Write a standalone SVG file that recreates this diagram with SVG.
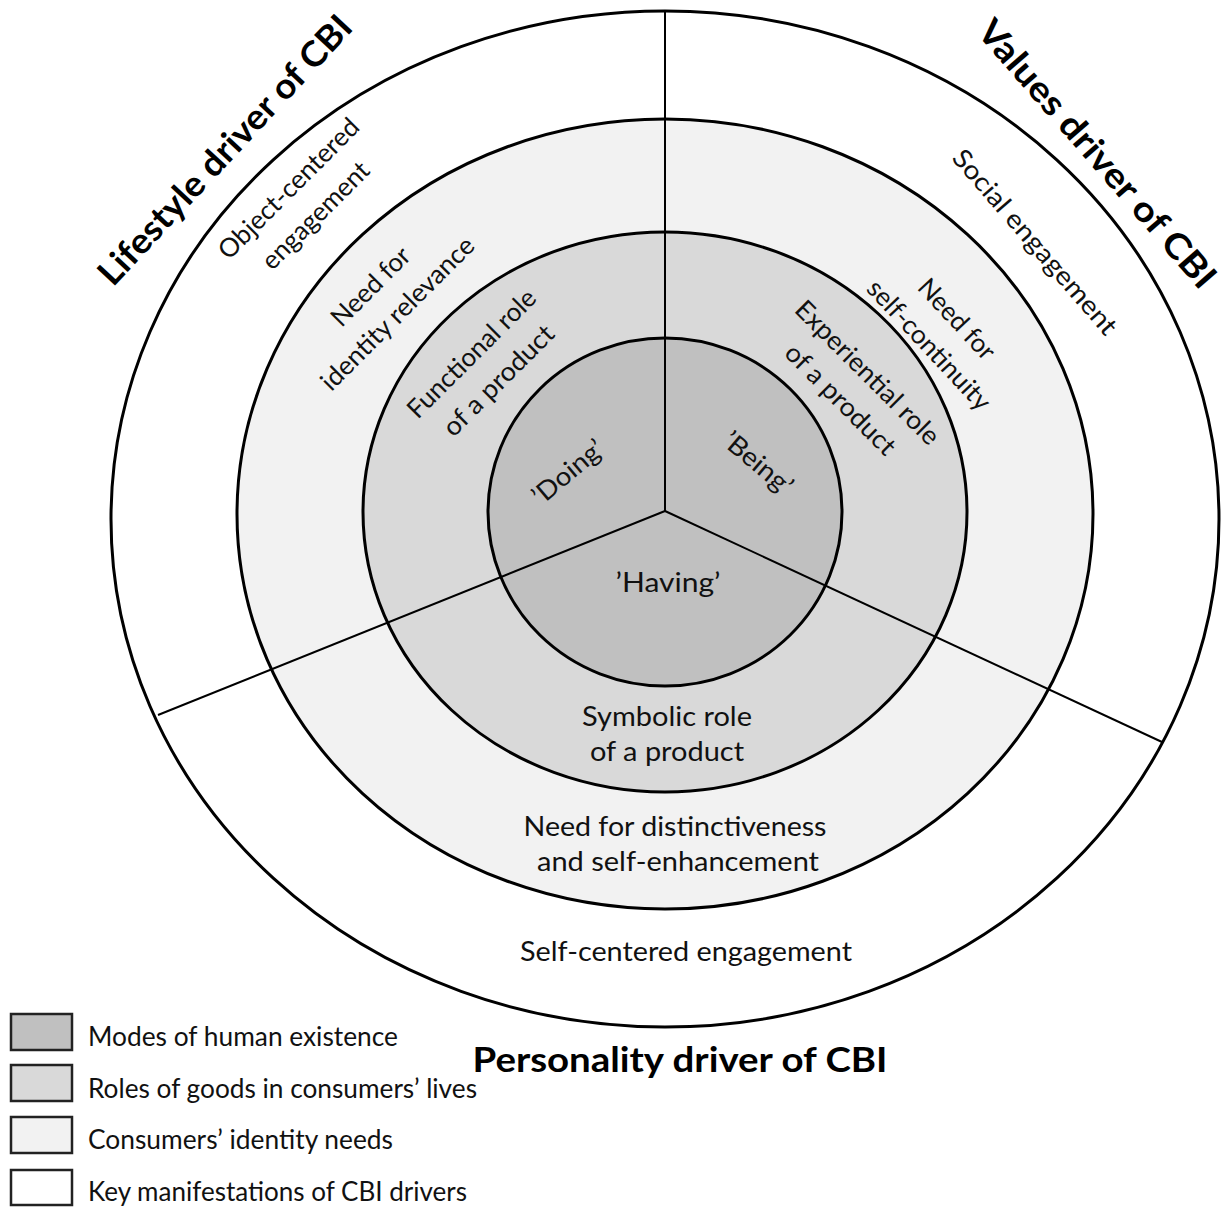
<svg xmlns="http://www.w3.org/2000/svg" width="1223" height="1209" viewBox="0 0 1223 1209">
<style>
.ring{stroke:#000;stroke-width:3}
.spoke{stroke:#000;stroke-width:2;fill:none}
.t{font-family:Lato,"Open Sans","Liberation Sans",sans-serif;font-size:26px;fill:#111;text-anchor:middle}
.lt{font-family:Lato,"Open Sans","Liberation Sans",sans-serif;font-size:26px;fill:#111;text-anchor:start}
.b{font-family:Lato,"Open Sans","Liberation Sans",sans-serif;font-size:35px;font-weight:bold;fill:#000;text-anchor:middle}
.key{stroke:#222;stroke-width:2.5}
</style>
<rect width="1223" height="1209" fill="#fff"/>
<g id="ring-drivers"><ellipse class="ring" cx="665" cy="519" rx="554" ry="508" fill="#fff"/></g>
<g id="ring-needs"><ellipse class="ring" cx="665" cy="514" rx="428" ry="395" fill="#f2f2f2"/></g>
<g id="ring-roles"><ellipse class="ring" cx="665" cy="512" rx="302" ry="280" fill="#d9d9d9"/></g>
<g id="ring-modes"><ellipse class="ring" cx="665" cy="512" rx="177" ry="174" fill="#c0c0c0"/></g>
<g id="connectors">
<line class="spoke" x1="665" y1="511" x2="665" y2="11"/>
<line class="spoke" x1="665" y1="511" x2="158" y2="715"/>
<line class="spoke" x1="665" y1="511" x2="1162" y2="742"/>
</g>
<g id="labels">
<g id="lbl-lifestyle" transform="translate(225,150) rotate(-47)"><text class="b" x="0" y="12" textLength="354" lengthAdjust="spacingAndGlyphs">Lifestyle driver of CBI</text></g>
<g id="lbl-values" transform="translate(1097,154) rotate(49)"><text class="b" x="0" y="12" textLength="343" lengthAdjust="spacingAndGlyphs">Values driver of CBI</text></g>
<g id="lbl-object" transform="translate(302,202) rotate(-45)"><text class="t" x="0" y="-10" textLength="187" lengthAdjust="spacingAndGlyphs">Object-centered</text><text class="t" x="0" y="28" textLength="140" lengthAdjust="spacingAndGlyphs">engagement</text></g>
<g id="lbl-social" transform="translate(1035,242) rotate(49)"><text class="t" x="0" y="9" textLength="236" lengthAdjust="spacingAndGlyphs">Social engagement</text></g>
<g id="lbl-relevance" transform="translate(384,300) rotate(-45)"><text class="t" x="0" y="-10" textLength="100" lengthAdjust="spacingAndGlyphs">Need for</text><text class="t" x="0" y="28" textLength="205" lengthAdjust="spacingAndGlyphs">identity relevance</text></g>
<g id="lbl-continuity" transform="translate(943,332) rotate(47)"><text class="t" x="0" y="-10" textLength="100" lengthAdjust="spacingAndGlyphs">Need for</text><text class="t" x="0" y="28" textLength="168" lengthAdjust="spacingAndGlyphs">self-continuity</text></g>
<g id="lbl-functional" transform="translate(485,367) rotate(-45)"><text class="t" x="0" y="-10" textLength="170" lengthAdjust="spacingAndGlyphs">Functional role</text><text class="t" x="0" y="28" textLength="145" lengthAdjust="spacingAndGlyphs">of a product</text></g>
<g id="lbl-experiential" transform="translate(854,386) rotate(45)"><text class="t" x="0" y="-10" textLength="192" lengthAdjust="spacingAndGlyphs">Experiential role</text><text class="t" x="0" y="28" textLength="145" lengthAdjust="spacingAndGlyphs">of a product</text></g>
<g id="lbl-doing" transform="translate(568,472) rotate(-40)"><text class="t" x="0" y="9" textLength="85" lengthAdjust="spacingAndGlyphs">’Doing’</text></g>
<g id="lbl-being" transform="translate(758,463) rotate(40)"><text class="t" x="0" y="9" textLength="82" lengthAdjust="spacingAndGlyphs">’Being’</text></g>
<g id="lbl-having"><text class="t" x="668" y="592" textLength="105" lengthAdjust="spacingAndGlyphs">’Having’</text></g>
<g id="lbl-symbolic"><text class="t" x="667" y="726" textLength="170" lengthAdjust="spacingAndGlyphs">Symbolic role</text><text class="t" x="667" y="761" textLength="154" lengthAdjust="spacingAndGlyphs">of a product</text></g>
<g id="lbl-distinctiveness"><text class="t" x="675" y="836" textLength="303" lengthAdjust="spacingAndGlyphs">Need for distinctiveness</text><text class="t" x="678" y="871" textLength="282" lengthAdjust="spacingAndGlyphs">and self-enhancement</text></g>
<g id="lbl-selfcentered"><text class="t" x="686" y="961" textLength="332" lengthAdjust="spacingAndGlyphs">Self-centered engagement</text></g>
<g id="lbl-personality"><text class="b" x="680" y="1072" textLength="415" lengthAdjust="spacingAndGlyphs">Personality driver of CBI</text></g>
</g>
<g id="legend">
<g id="key-modes"><rect class="key" x="11" y="1014" width="61" height="36" fill="#c0c0c0"/><text class="lt" x="88" y="1046" textLength="310" lengthAdjust="spacingAndGlyphs">Modes of human existence</text></g>
<g id="key-roles"><rect class="key" x="11" y="1065" width="61" height="36" fill="#d9d9d9"/><text class="lt" x="88" y="1098" textLength="389" lengthAdjust="spacingAndGlyphs">Roles of goods in consumers’ lives</text></g>
<g id="key-needs"><rect class="key" x="11" y="1117" width="61" height="36" fill="#f2f2f2"/><text class="lt" x="88" y="1149" textLength="305" lengthAdjust="spacingAndGlyphs">Consumers’ identity needs</text></g>
<g id="key-drivers"><rect class="key" x="11" y="1170" width="61" height="35" fill="#fff"/><text class="lt" x="88" y="1201" textLength="379" lengthAdjust="spacingAndGlyphs">Key manifestations of CBI drivers</text></g>
</g>
</svg>
